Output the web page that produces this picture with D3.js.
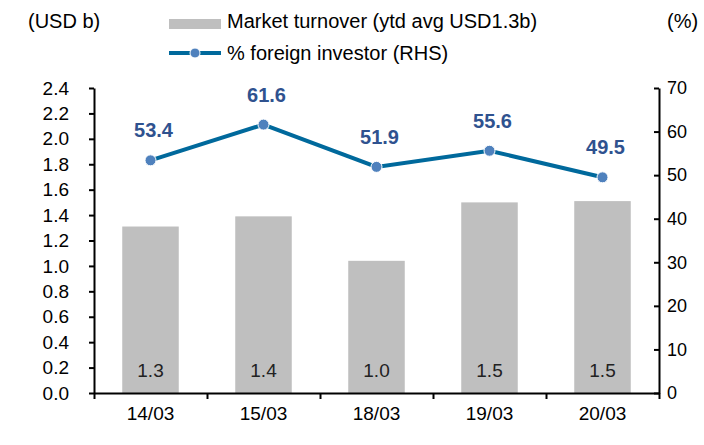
<!DOCTYPE html>
<html lang="en">
<head>
    <meta charset="UTF-8">
    <title>Market turnover and foreign investor share</title>
    <script type="text/javascript" src="https://cdn.jsdelivr.net/npm/d3@7"></script>
    <style type="text/css">
        body { margin: 0; background: #fff; }
        svg text { font-family: Arial, "Liberation Sans", sans-serif; }
    </style>
</head>
<body>
<script type="text/javascript">

    //Data
    var dates = ["14/03", "15/03", "18/03", "19/03", "20/03"];
    var turnover = [1.31, 1.39, 1.04, 1.50, 1.51];   //USD b, left axis
    var foreignPct = [53.4, 61.6, 51.9, 55.6, 49.5]; //%, right axis
    var leftTicks = [0, 0.2, 0.4, 0.6, 0.8, 1.0, 1.2, 1.4, 1.6, 1.8, 2.0, 2.2, 2.4];
    var rightTicks = [0, 10, 20, 30, 40, 50, 60, 70];

    //Width and height
    var w = 704;
    var h = 445;
    //plot edges (note: "top" is taken by window.top, so use plot* names)
    var plotLeft = 94, plotRight = 659, plotTop = 88, plotBottom = 393;

    var svg = d3.select("body")
        .append("svg")
        .attr("width", w)
        .attr("height", h);

    //Scales
    var x = d3.scaleBand()
        .domain(dates)
        .range([plotLeft, plotRight])
        .paddingInner(0.5)
        .paddingOuter(0.25);
    var xEdge = d3.scaleLinear().domain([0, dates.length]).range([plotLeft, plotRight]);
    var yL = d3.scaleLinear().domain([0, 2.4]).range([plotBottom, plotTop]);
    var yR = d3.scaleLinear().domain([0, 70]).range([plotBottom, plotTop]);

    //Bars
    svg.selectAll("rect.bar")
        .data(turnover)
        .enter()
        .append("rect")
        .attr("class", "bar")
        .attr("x", function(d, i) { return x(dates[i]); })
        .attr("y", function(d) { return yL(d); })
        .attr("width", x.bandwidth())
        .attr("height", function(d) { return yL(0) - yL(d); })
        .attr("fill", "#bfbfbf");

    //Bar value labels, near the bottom of each bar
    svg.selectAll("text.barlabel")
        .data(turnover)
        .enter()
        .append("text")
        .attr("class", "barlabel")
        .text(function(d) { return d3.format(".1f")(d); })
        .attr("x", function(d, i) { return x(dates[i]) + x.bandwidth() / 2; })
        .attr("y", yL(0) - 16)
        .attr("font-size", "19px")
        .attr("fill", "#222")
        .attr("text-anchor", "middle");

    //Axes
    var axisStyle = function(size) {
        return function(g) {
            g.select(".domain").attr("stroke", "#000").attr("stroke-width", 2);
            g.selectAll(".tick line").attr("stroke", "#000").attr("stroke-width", 2);
            g.selectAll(".tick text").attr("fill", "#000").attr("font-size", size)
                .attr("font-family", "Arial, 'Liberation Sans', sans-serif");
        };
    };

    svg.append("g")
        .attr("transform", "translate(" + plotLeft + ",0)")
        .call(d3.axisLeft(yL).tickValues(leftTicks).tickFormat(d3.format(".1f"))
            .tickSize(5).tickSizeOuter(0).tickPadding(20))
        .call(axisStyle("19px"));

    svg.append("g")
        .attr("transform", "translate(" + plotRight + ",0)")
        .call(d3.axisRight(yR).tickValues(rightTicks).tickFormat(d3.format("d"))
            .tickSize(-5).tickSizeOuter(0).tickPadding(8))
        .call(axisStyle("18px"));

    //x axis: labels under the bars, tick marks at category edges
    svg.append("g")
        .attr("transform", "translate(0," + plotBottom + ")")
        .call(d3.axisBottom(xEdge).ticks(dates.length).tickFormat("")
            .tickSize(6).tickSizeOuter(0))
        .call(axisStyle("18px"));

    svg.append("g")
        .attr("transform", "translate(0," + plotBottom + ")")
        .call(d3.axisBottom(x).tickSize(0).tickPadding(14))
        .call(function(g) {
            g.select(".domain").remove();
            g.selectAll(".tick text").attr("fill", "#000").attr("font-size", "19px")
                .attr("font-family", "Arial, 'Liberation Sans', sans-serif");
        });

    //Line for % foreign investor
    var cx = function(d, i) { return x(dates[i]) + x.bandwidth() / 2; };
    var line = d3.line()
        .x(cx)
        .y(function(d) { return yR(d); });

    svg.append("path")
        .datum(foreignPct)
        .attr("d", line)
        .attr("fill", "none")
        .attr("stroke", "#00699c")
        .attr("stroke-width", 4);

    svg.selectAll("circle.pt")
        .data(foreignPct)
        .enter()
        .append("circle")
        .attr("class", "pt")
        .attr("cx", cx)
        .attr("cy", function(d) { return yR(d); })
        .attr("r", 5.5)
        .attr("fill", "#4f81bd")
        .attr("stroke", "#fff")
        .attr("stroke-width", 1);

    svg.selectAll("text.ptlabel")
        .data(foreignPct)
        .enter()
        .append("text")
        .attr("class", "ptlabel")
        .text(function(d) { return d3.format(".1f")(d); })
        .attr("x", function(d, i) { return cx(d, i) + 3; })
        .attr("y", function(d) { return yR(d) - 23; })
        .attr("font-size", "20px")
        .attr("font-weight", "bold")
        .attr("fill", "#2f528f")
        .attr("text-anchor", "middle");

    //Axis titles
    svg.append("text").text("(USD b)")
        .attr("x", 28).attr("y", 28).attr("font-size", "20px").attr("fill", "#000");
    svg.append("text").text("(%)")
        .attr("x", 667).attr("y", 28).attr("font-size", "20px").attr("fill", "#000");

    //Legend
    var legend = svg.append("g");
    legend.append("rect")
        .attr("x", 169).attr("y", 19).attr("width", 52).attr("height", 10)
        .attr("fill", "#bfbfbf");
    legend.append("text").text("Market turnover (ytd avg USD1.3b)")
        .attr("x", 227).attr("y", 28).attr("font-size", "20px").attr("fill", "#000");
    legend.append("line")
        .attr("x1", 169).attr("x2", 221).attr("y1", 53).attr("y2", 53)
        .attr("stroke", "#00699c").attr("stroke-width", 4);
    legend.append("circle")
        .attr("cx", 195).attr("cy", 53).attr("r", 5)
        .attr("fill", "#4f81bd").attr("stroke", "#fff").attr("stroke-width", 1);
    legend.append("text").text("% foreign investor (RHS)")
        .attr("x", 227).attr("y", 60).attr("font-size", "20px").attr("fill", "#000");
</script>
</body>
</html>
